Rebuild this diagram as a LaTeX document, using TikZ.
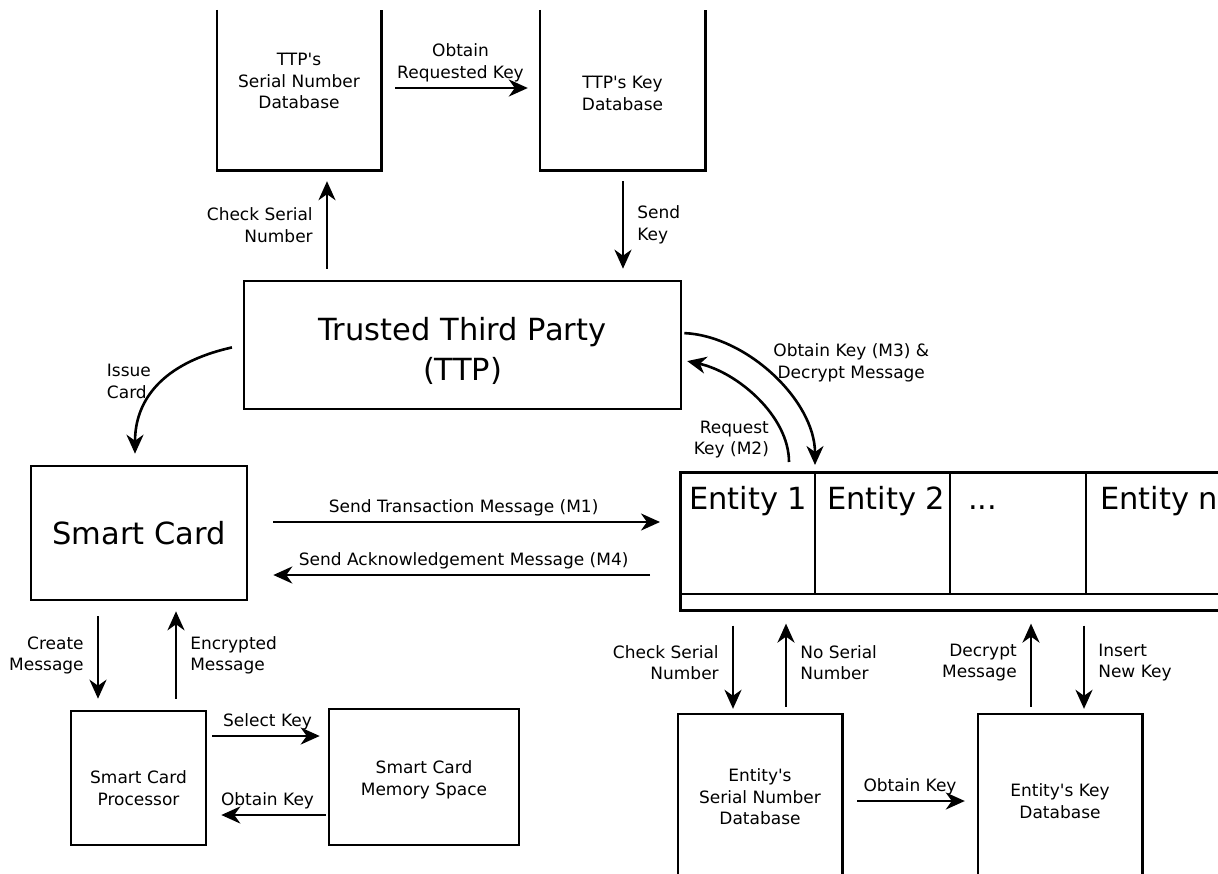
\documentclass[tikz,border=0pt]{standalone}
\usepackage{fontspec}
\setmainfont{DejaVu Sans}
\usepackage{tikz}
\usetikzlibrary{arrows.meta, positioning, calc}
\newcommand{\smallfont}{\fontsize{17}{21.5}\selectfont}
\newcommand{\bigfont}{\fontsize{30.5}{40}\selectfont}
\tikzset{
    block/.style={rectangle, draw, line width=2.6pt, align=center, font=\bigfont},
    dbbox/.style={rectangle, align=center, font=\smallfont},
    edge/.style={line width=2.6pt},
    arrow/.style={line width=2.6pt, -{Stealth[length=19pt, width=17pt, inset=6pt]}, shorten <=11pt, shorten >=11pt},
    side/.style={font=\smallfont, inner sep=13pt},
    over/.style={font=\smallfont, align=center, inner sep=5pt},
    cell/.style={anchor=west, font=\bigfont, inner sep=2pt, text height=23pt, text depth=7pt}
}

\begin{document}
\begin{tikzpicture}[x=1pt, y=-1pt]
    \useasboundingbox (0,0) rectangle (1218,873);

    % TTP and its databases
    \node[dbbox, minimum width=164pt, minimum height=160pt, text depth=18pt] (ttpsn) at (299,90) {TTP\textquotesingle s\\Serial Number\\Database};
    \node[dbbox, minimum width=165pt, minimum height=160pt, text height=40.5pt] (ttpkey) at (622.5,90) {TTP\textquotesingle s Key\\Database};
    \draw[edge] (ttpsn.north west) -- (ttpsn.south west) -- (ttpsn.south east) -- (ttpsn.north east);
    \draw[edge] (ttpkey.north west) -- (ttpkey.south west) -- (ttpkey.south east) -- (ttpkey.north east);
    \node[block, minimum width=437pt, minimum height=128pt, text height=75pt] (ttp) at (462.5,345) {Trusted Third Party\\(TTP)};

    % smart card side
    \node[block, minimum width=216pt, minimum height=134pt] (smartcard) at (139,533) {Smart Card};
    \node[dbbox, draw, line width=2.6pt, minimum width=135pt, minimum height=134pt, text height=55pt] (proc) at (138.5,778) {Smart Card\\Processor};
    \node[dbbox, draw, line width=2.6pt, minimum width=190pt, minimum height=136pt, text height=40.5pt] (mem) at (424,777) {Smart Card\\Memory Space};

    % entities
    \node[draw, line width=2.6pt, minimum width=560pt, minimum height=138pt, anchor=north west] (entity) at (679,471) {};
    \draw[edge] (entity.west |- 0,594) -- (entity.east |- 0,594);
    \foreach \x in {815,950,1086}
        \draw[edge] (\x,0 |- entity.north) -- (\x,594);
    \node[cell] (ent1) at (687,501) {Entity 1};
    \node[cell] (ent2) at (825,501) {Entity 2};
    \node[cell] (entdots) at (966,501) {...};
    \node[cell] (entn) at (1098,501) {Entity n};
    \node[dbbox, minimum width=164pt, minimum height=166pt] (entsn) at (760,797) {Entity\textquotesingle s\\Serial Number\\Database};
    \node[dbbox, minimum width=164pt, minimum height=166pt, text height=42.5pt] (entkey) at (1060,797) {Entity\textquotesingle s Key\\Database};
    \draw[edge] (entsn.south west) -- (entsn.north west) -- (entsn.north east) -- (entsn.south east);
    \draw[edge] (entkey.south west) -- (entkey.north west) -- (entkey.north east) -- (entkey.south east);

    % TTP connectors
    \draw[arrow] (ttp.north -| 327,0) -- (ttpsn.south -| 327,0) node[midway, left, side, align=right] {Check Serial\\Number};
    \draw[arrow] (ttpkey.south -| 623,0) -- (ttp.north -| 623,0) node[midway, right, side, align=left] {Send\\Key};
    \draw[arrow, shorten <=14pt, shorten >=12pt] (ttpsn.east |- 0,88) -- (ttpkey.west |- 0,88) node[midway, above, over] {Obtain\\Requested Key};
    \draw[arrow] (ttp.west) .. controls +(-80,18) and +(0,-65) .. (smartcard.north -| 135,0)
        node[pos=0.45, anchor=east, font=\smallfont, align=left, inner sep=12pt] {Issue\\Card};
    \draw[arrow, shorten <=9pt, shorten >=5pt] (entity.north -| 789,0) .. controls +(0,-55) and +(55,12) .. (ttp.east |- 0,360)
        node[pos=0.2, left, side, align=right] {Request\\Key (M2)};
    \draw[arrow, shorten <=2pt, shorten >=6pt] (ttp.east |- 0,333) .. controls +(65,3) and +(0,-70) .. (entity.north -| 815,0)
        node[pos=0.4, right, side, xshift=2pt, align=center] {Obtain Key (M3) \&\\Decrypt Message};

    % messages
    \draw[arrow, shorten <=25pt, shorten >=19pt] (smartcard.east |- 0,522) -- (entity.west |- 0,522) node[midway, above, over] {Send Transaction Message (M1)};
    \draw[arrow, shorten <=29pt, shorten >=25pt] (entity.west |- 0,575) -- (smartcard.east |- 0,575) node[midway, above, over] {Send Acknowledgement Message (M4)};

    % smart card internals
    \draw[arrow, shorten <=15pt, shorten >=11pt] (smartcard.south -| 98,0) -- (proc.north -| 98,0) node[midway, left, side, align=right] {Create\\Message};
    \draw[arrow, shorten <=11pt, shorten >=10pt] (proc.north -| 176,0) -- (smartcard.south -| 176,0) node[midway, right, side, align=left] {Encrypted\\Message};
    \draw[arrow, shorten <=5pt, shorten >=8pt] (proc.east |- 0,736) -- (mem.west |- 0,736) node[midway, above, over] {Select Key};
    \draw[arrow, shorten <=2pt, shorten >=14pt] (mem.west |- 0,815) -- (proc.east |- 0,815) node[midway, above, over] {Obtain Key};

    % entity internals
    \draw[arrow, shorten <=14pt, shorten >=5pt] (entity.south -| 733,0) -- (entsn.north -| 733,0) node[midway, left, side, align=right] {Check Serial\\Number};
    \draw[arrow, shorten <=7pt, shorten >=12pt] (entsn.north -| 786,0) -- (entity.south -| 786,0) node[midway, right, side, align=left] {No Serial\\Number};
    \draw[arrow, shorten <=7pt, shorten >=12pt] (entkey.north -| 1031,0) -- (entity.south -| 1031,0) node[midway, left, side, align=right] {Decrypt\\Message};
    \draw[arrow, shorten <=14pt, shorten >=5pt] (entity.south -| 1084,0) -- (entkey.north -| 1084,0) node[midway, right, side, align=left] {Insert\\New Key};
    \draw[arrow, shorten <=15pt, shorten >=13pt] (entsn.east |- 0,801) -- (entkey.west |- 0,801) node[midway, above, over] {Obtain Key};
\end{tikzpicture}
\end{document}
